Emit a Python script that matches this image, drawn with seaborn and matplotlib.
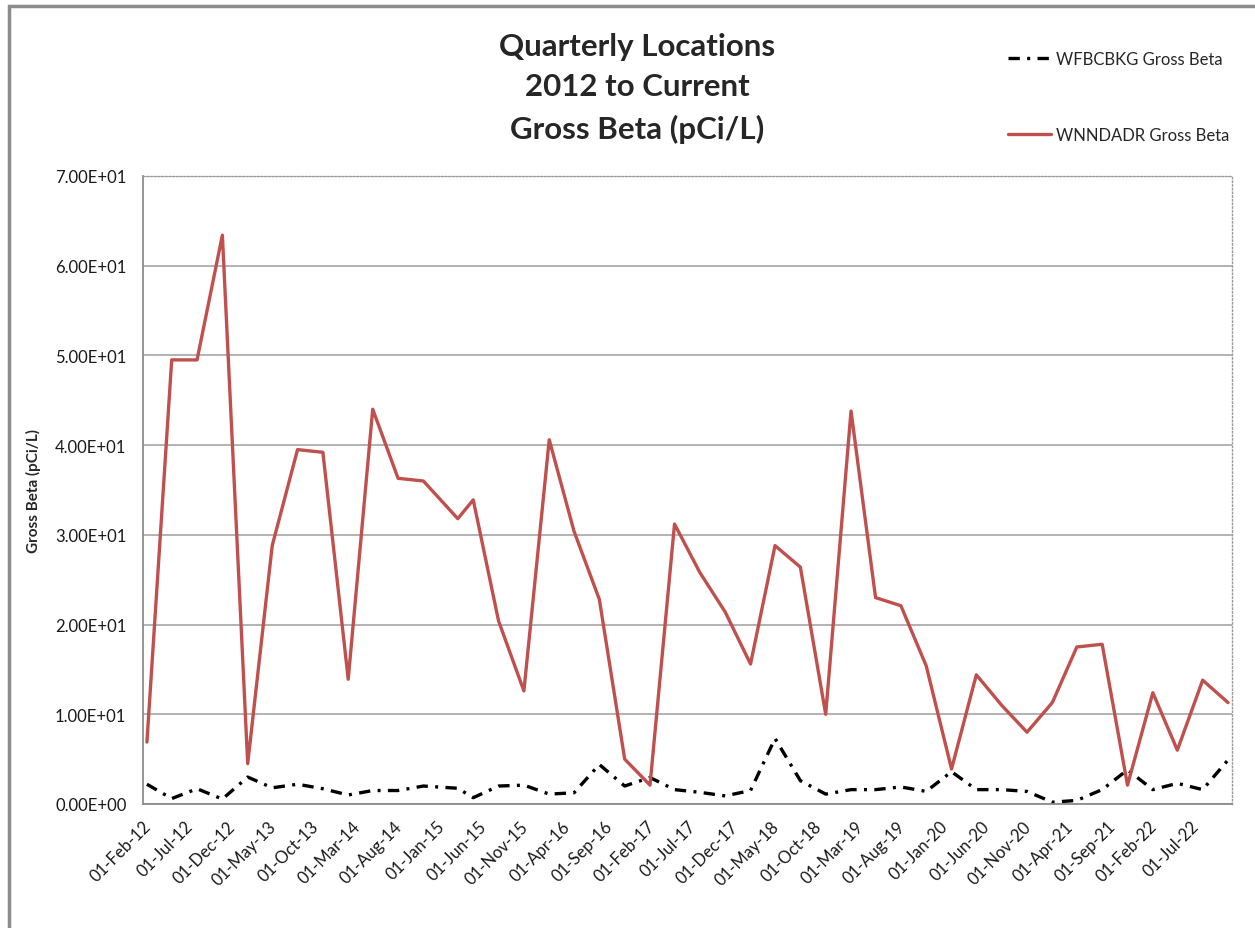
import numpy as np
import pandas as pd
import matplotlib
matplotlib.use("Agg")
import matplotlib.pyplot as plt
import matplotlib.dates as mdates
from matplotlib.patches import Rectangle
from matplotlib.ticker import FuncFormatter
import seaborn as sns

# sample dates (roughly quarterly)
dates = ["2012-02-15", "2012-05-15", "2012-08-15", "2012-11-15",
         "2013-02-15", "2013-05-15", "2013-08-15", "2013-11-15",
         "2014-02-15", "2014-05-15", "2014-08-15", "2014-11-15",
         "2015-03-20", "2015-05-15", "2015-08-15", "2015-11-15",
         "2016-02-15", "2016-05-15", "2016-08-15", "2016-11-15",
         "2017-02-15", "2017-05-15", "2017-08-15", "2017-11-15",
         "2018-02-15", "2018-05-15", "2018-08-15", "2018-11-15",
         "2019-02-15", "2019-05-15", "2019-08-15", "2019-11-15",
         "2020-02-15", "2020-05-15", "2020-08-15", "2020-11-15",
         "2021-02-15", "2021-05-15", "2021-08-15", "2021-11-15",
         "2022-02-15", "2022-05-15", "2022-08-15", "2022-11-15"]

wfbcbkg = [2.2, 0.6, 1.7, 0.55, 3.0, 1.8, 2.2, 1.7, 1.0, 1.5,
           1.5, 2.0, 1.75, 0.7, 2.0, 2.1, 1.1, 1.25, 4.4, 2.0,
           2.95, 1.6, 1.3, 0.9, 1.5, 7.3, 2.6, 1.1, 1.6, 1.6,
           1.9, 1.4, 3.6, 1.6, 1.6, 1.4, 0.2, 0.4, 1.6, 3.8,
           1.6, 2.3, 1.6, 4.9]

wnndadr = [6.9, 49.5, 49.5, 63.4, 4.5, 28.8, 39.5, 39.2, 13.9, 44.0,
           36.3, 36.0, 31.8, 33.9, 20.4, 12.6, 40.6, 30.4, 22.8, 5.0,
           2.1, 31.2, 25.8, 21.4, 15.6, 28.8, 26.4, 10.0, 43.8, 23.0,
           22.1, 15.4, 3.9, 14.4, 11.0, 8.0, 11.3, 17.5, 17.8, 2.1,
           12.4, 6.0, 13.8, 11.3]

series_names = ["WFBCBKG Gross Beta", "WNNDADR Gross Beta"]
y_ticks = [0, 10, 20, 30, 40, 50, 60, 70]

df = pd.DataFrame({"date": pd.to_datetime(dates),
                   series_names[0]: wfbcbkg,
                   series_names[1]: wnndadr})

sns.set_theme(style="white")
plt.rcParams["font.family"] = ["Lato", "DejaVu Sans"]

fig = plt.figure(figsize=(12.55, 9.29), dpi=100)
ax = fig.add_axes([0.114, 0.1335, 0.868, 0.676])

sns.lineplot(data=df, x="date", y=series_names[0], ax=ax, color="black",
             lw=2.4, label=series_names[0])
ax.lines[-1].set_dashes((3.4, 2.2, 0.9, 2.2))
sns.lineplot(data=df, x="date", y=series_names[1], ax=ax, color="#c0504d",
             lw=2.4, label=series_names[1])

# axes limits and ticks
ax.set_ylim(0, 70)
ax.set_yticks(y_ticks)
ax.yaxis.set_major_formatter(FuncFormatter(lambda v, p: f"{v:.2E}"))

tick_dates = pd.date_range("2012-02-01", "2022-12-01", freq="5MS")
ax.set_xlim(pd.Timestamp("2012-02-01"), pd.Timestamp("2022-12-01"))
ax.set_xticks(tick_dates)
ax.set_xticklabels([d.strftime("%d-%b-%y") if i < len(tick_dates) - 1 else ""
                    for i, d in enumerate(tick_dates)],
                   rotation=45, ha="right", rotation_mode="anchor")

ax.tick_params(axis="both", labelsize=12, colors="#8c8c8c", length=6,
               width=1.2, direction="out", labelcolor="#1a1a1a")
ax.tick_params(axis="x", pad=4)
ax.tick_params(axis="y", pad=6)

ax.yaxis.grid(True, color="#a6a6a6", lw=1.2)
ax.xaxis.grid(False)
for side in ["left", "bottom"]:
    ax.spines[side].set_color("#8c8c8c")
    ax.spines[side].set_linewidth(1.3)
for side in ["top", "right"]:
    ax.spines[side].set_color("#9a9a9a")
    ax.spines[side].set_linestyle(":")
    ax.spines[side].set_linewidth(1.0)

ax.set_xlabel("")
ax.set_ylabel("Gross Beta (pCi/L)", fontsize=11, fontweight="bold", labelpad=10)

ax.get_legend().remove()
handles, labels = ax.get_legend_handles_labels()
fig.legend(handles, labels, loc="upper left", bbox_to_anchor=(0.791, 0.96),
           frameon=False, fontsize=12, labelspacing=3.6, handlelength=2.6,
           handletextpad=0.3)

fig.text(0.508, 0.905, "Quarterly Locations\n2012 to Current\nGross Beta (pCi/L)",
         ha="center", va="center", fontsize=22.5, fontweight="bold",
         linespacing=1.56)

# chart area border
fig.patches.append(Rectangle((9 / 1255, -0.1), 1.2, 1.1 - 7 / 929,
                             transform=fig.transFigure, fill=False,
                             edgecolor="#8c8c8c", lw=2.5))

fig.savefig("out.png", dpi=100)
